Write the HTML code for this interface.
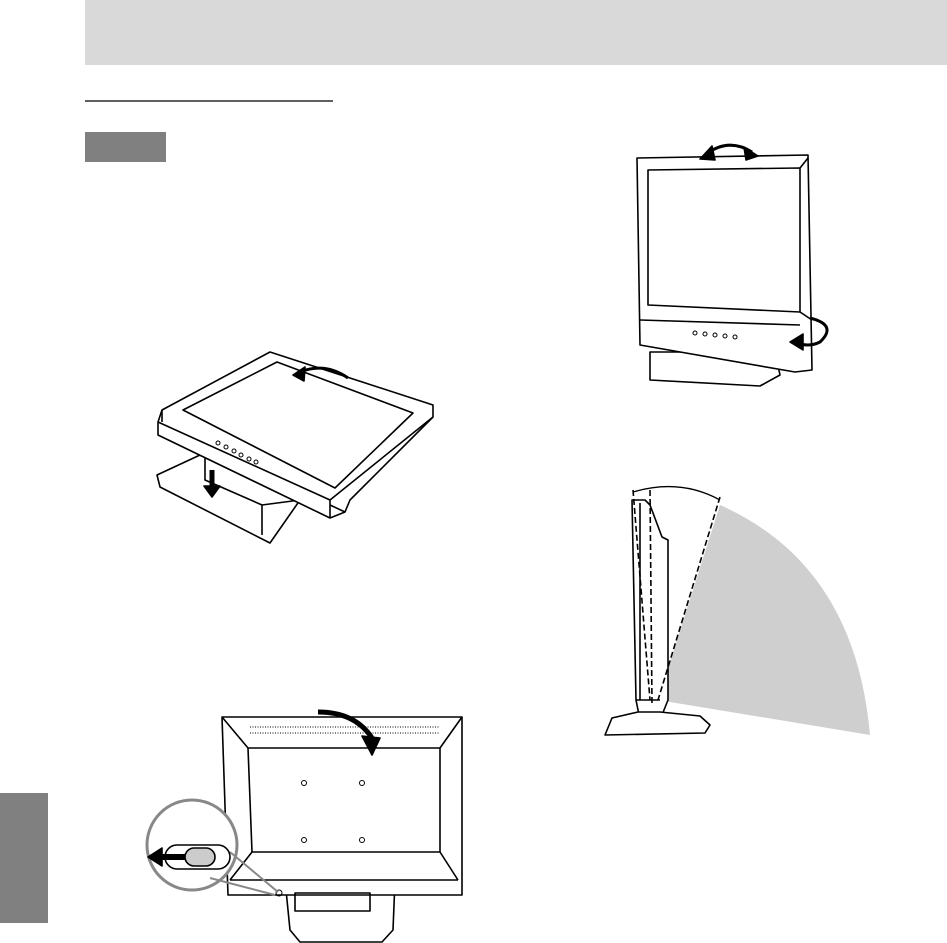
<!DOCTYPE html>
<html><head><meta charset="utf-8"><style>
html,body{margin:0;padding:0;background:#fff;}
svg{display:block;}
</style></head><body>
<svg width="947" height="943" viewBox="0 0 947 943" xmlns="http://www.w3.org/2000/svg" fill="none" stroke="#000" stroke-width="1.6" stroke-linejoin="round">
<rect x="85" y="0" width="862" height="65" fill="#d9d9d9" stroke="none"/>
<line x1="85" y1="101" x2="333" y2="101" stroke-width="1.3"/>
<rect x="85" y="132" width="81" height="30" fill="#808080" stroke="none"/>
<rect x="0" y="793" width="48" height="130" fill="#808080" stroke="none"/>

<!-- lying monitor -->
<path d="M157,475 L200,455 L215,460 L300,500 L270,543 L160,487 Z" fill="#fff"/>
<path d="M205,450 L205,480 L262,505 L262,535 M262,505 L300,500"/>
<path d="M162,410 L270,352 L433,405 L433,417 L350,500 L345,512 L330,518 L158,435 L158,422 Z" fill="#fff"/>
<path d="M158,422 L330,500 L433,417 M330,500 L330,518 M162,410 L162,422 M330,505 L345,512"/>
<path d="M183,410 L277,362 L413,413 L335,488 Z"/>
<path d="M300,372 Q325,362 348,378" stroke-width="3"/>
<path d="M293,375 L305,367 L304,381 Z" fill="#000"/>
<path d="M212,470 L212,488" stroke-width="5"/>
<path d="M204,486 L220,486 L212,497 Z" fill="#000"/>
<g stroke-width="1"><circle cx="218" cy="443" r="2"/><circle cx="226" cy="447" r="2"/><circle cx="234" cy="451" r="2"/><circle cx="241" cy="455" r="2"/><circle cx="249" cy="459" r="2"/><circle cx="256" cy="462" r="2"/></g>

<!-- front monitor -->
<path d="M650,352 L775,352 L780,375 L760,386 L650,380 Z" fill="#fff"/>
<path d="M637,158 L808,155 L812,370 L795,372 L640,345 Z" fill="#fff"/>
<path d="M648,170 L800,168 L800,312 L648,305 Z"/>
<path d="M640,320 L800,325 M800,168 L808,158 M800,312 L812,320"/>
<g stroke-width="1"><circle cx="695" cy="333" r="2"/><circle cx="705" cy="334" r="2"/><circle cx="715" cy="335" r="2"/><circle cx="725" cy="336" r="2"/><circle cx="735" cy="337" r="2"/></g>
<path d="M705,155 Q728,137 752,152" stroke-width="3"/>
<path d="M700,159 L712,146 L715,160 Z M758,156 L744,147 L746,160 Z" fill="#000"/>
<path d="M810,318 Q838,325 820,342 Q808,348 795,342" stroke-width="3"/>
<path d="M790,342 L803,334 L803,350 Z" fill="#000"/>

<!-- side view -->
<path d="M658,700 L720,505 Q855,565 870,735 Z" fill="#cfcfcf" stroke="none"/>
<path d="M632,500 L645,500 L650,505 L662,537 L668,540 L668,700 L660,720 L640,720 L636,700 Z" fill="#fff"/>
<path d="M640,503 L640,700 M636,700 L660,700"/>
<path d="M612,718 L638,712 L660,712 L700,716 L710,725 L705,733 L605,735 Z" fill="#fff"/>
<path d="M633,490 L650,700 M650,490 L652,705 M720,497 L658,700" stroke-dasharray="6,3"/>
<path d="M633,492 Q680,478 720,500" stroke-width="1.3"/>

<!-- back monitor -->
<path d="M285,880 L395,880 L393,930 L382,942 L300,942 L290,930 Z" fill="#fff"/>
<path d="M222,717 L462,717 L462,895 L228,895 Z" fill="#fff"/>
<path d="M248,748 L440,748 L440,852 L252,852 Z"/>
<path d="M222,717 L248,748 M462,717 L440,748 M252,852 L230,880 M440,852 L458,880 M230,880 L458,880"/>
<rect x="295" y="893" width="75" height="18"/>
<g stroke-width="1"><circle cx="304" cy="783" r="2.5"/><circle cx="362" cy="783" r="2.5"/><circle cx="304" cy="840" r="2.5"/><circle cx="362" cy="840" r="2.5"/><circle cx="279" cy="893" r="3"/></g>
<path d="M250,727 L440,727 M250,733 L440,733" stroke="#555" stroke-dasharray="1,1.5"/>
<path d="M318,712 Q355,712 372,738" stroke-width="5"/>
<path d="M362,736 L380,738 L372,755 Z" fill="#000"/>
<circle cx="192" cy="845" r="45" fill="#fff" stroke="#888" stroke-width="3"/>
<path d="M230,852 L278,892 M210,878 L275,895" stroke="#888" stroke-width="2"/>
<rect x="165" y="845" width="65" height="24" rx="12" fill="#fff"/>
<rect x="185" y="848" width="30" height="18" rx="9" fill="#ccc"/>
<path d="M152,857 L185,857" stroke-width="6"/>
<path d="M148,857 L162,848 L162,866 Z" fill="#000"/>
</svg>
</body></html>
